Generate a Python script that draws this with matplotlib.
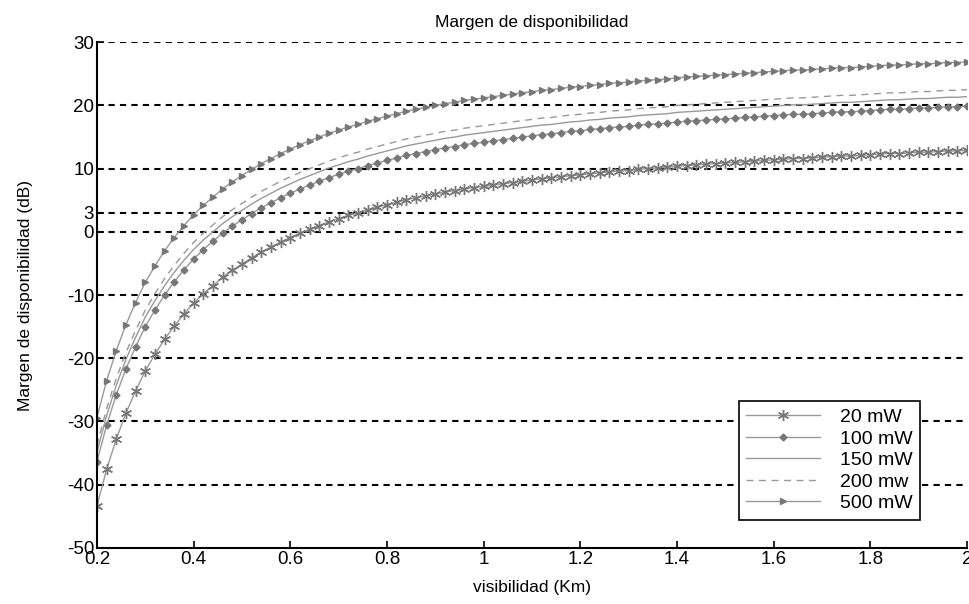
import matplotlib
matplotlib.use("Agg")
import matplotlib.pyplot as plt
import numpy as np

plt.rcParams['font.family'] = ['Liberation Sans', 'DejaVu Sans']

visibilidad = [round(0.20 + 0.02 * i, 2) for i in range(91)]

m20 = [-43.4, -37.6, -32.8, -28.7, -25.2, -22.0, -19.4, -17.0, -14.9, -13.0,
       -11.3, -9.8, -8.5, -7.2, -6.1, -5.1, -4.1, -3.2, -2.4, -1.6,
       -0.9, -0.2, 0.4, 1.0, 1.6, 2.1, 2.6, 3.0, 3.5, 3.9,
       4.3, 4.7, 5.1, 5.4, 5.7, 6.0, 6.3, 6.5, 6.8, 7.0,
       7.2, 7.4, 7.6, 7.8, 8.0, 8.2, 8.4, 8.5, 8.7, 8.9,
       9.0, 9.2, 9.3, 9.5, 9.6, 9.7, 9.9, 10.0, 10.1, 10.2,
       10.4, 10.5, 10.6, 10.7, 10.8, 10.9, 11.0, 11.1, 11.2, 11.3,
       11.4, 11.5, 11.6, 11.6, 11.7, 11.8, 11.9, 12.0, 12.0, 12.1,
       12.2, 12.3, 12.4, 12.4, 12.5, 12.6, 12.6, 12.7, 12.8, 12.8,
       12.9]

m100 = [-36.4, -30.6, -25.8, -21.7, -18.2, -15.0, -12.4, -10.0, -7.9, -6.0,
        -4.3, -2.8, -1.5, -0.2, 0.9, 1.9, 2.9, 3.8, 4.6, 5.4,
        6.1, 6.8, 7.4, 8.0, 8.6, 9.1, 9.6, 10.0, 10.5, 10.9,
        11.3, 11.7, 12.1, 12.4, 12.7, 13.0, 13.3, 13.5, 13.8, 14.0,
        14.2, 14.4, 14.6, 14.8, 15.0, 15.2, 15.4, 15.5, 15.7, 15.9,
        16.0, 16.2, 16.3, 16.5, 16.6, 16.7, 16.9, 17.0, 17.1, 17.2,
        17.4, 17.5, 17.6, 17.7, 17.8, 17.9, 18.0, 18.1, 18.2, 18.3,
        18.4, 18.5, 18.6, 18.6, 18.7, 18.8, 18.9, 19.0, 19.0, 19.1,
        19.2, 19.3, 19.4, 19.4, 19.5, 19.6, 19.6, 19.7, 19.8, 19.8,
        19.9]

m150 = [-34.9, -29.1, -24.3, -20.2, -16.7, -13.5, -10.9, -8.5, -6.4, -4.5,
        -2.8, -1.3, 0.0, 1.3, 2.4, 3.4, 4.4, 5.3, 6.1, 6.9,
        7.6, 8.3, 8.9, 9.5, 10.1, 10.6, 11.1, 11.5, 12.0, 12.4,
        12.8, 13.2, 13.6, 13.9, 14.2, 14.5, 14.8, 15.0, 15.3, 15.5,
        15.7, 15.9, 16.1, 16.3, 16.5, 16.7, 16.9, 17.0, 17.2, 17.4,
        17.5, 17.7, 17.8, 18.0, 18.1, 18.2, 18.4, 18.5, 18.6, 18.7,
        18.9, 19.0, 19.1, 19.2, 19.3, 19.4, 19.5, 19.6, 19.7, 19.8,
        19.9, 20.0, 20.1, 20.1, 20.2, 20.3, 20.4, 20.5, 20.5, 20.6,
        20.7, 20.8, 20.9, 20.9, 21.0, 21.1, 21.1, 21.2, 21.3, 21.3,
        21.4]

m200 = [-33.8, -28.0, -23.2, -19.1, -15.6, -12.4, -9.8, -7.4, -5.3, -3.4,
        -1.7, -0.2, 1.1, 2.4, 3.5, 4.5, 5.5, 6.4, 7.2, 8.0,
        8.7, 9.4, 10.0, 10.6, 11.2, 11.7, 12.2, 12.6, 13.1, 13.5,
        13.9, 14.3, 14.7, 15.0, 15.3, 15.6, 15.9, 16.1, 16.4, 16.6,
        16.8, 17.0, 17.2, 17.4, 17.6, 17.8, 18.0, 18.1, 18.3, 18.5,
        18.6, 18.8, 18.9, 19.1, 19.2, 19.3, 19.5, 19.6, 19.7, 19.8,
        20.0, 20.1, 20.2, 20.3, 20.4, 20.5, 20.6, 20.7, 20.8, 20.9,
        21.0, 21.1, 21.2, 21.2, 21.3, 21.4, 21.5, 21.6, 21.6, 21.7,
        21.8, 21.9, 22.0, 22.0, 22.1, 22.2, 22.2, 22.3, 22.4, 22.4,
        22.5]

m500 = [-29.4, -23.6, -18.8, -14.7, -11.2, -8.0, -5.4, -3.0, -0.9, 1.0,
        2.7, 4.2, 5.5, 6.8, 7.9, 8.9, 9.9, 10.8, 11.6, 12.4,
        13.1, 13.8, 14.4, 15.0, 15.6, 16.1, 16.6, 17.0, 17.5, 17.9,
        18.3, 18.7, 19.1, 19.4, 19.7, 20.0, 20.3, 20.5, 20.8, 21.0,
        21.2, 21.4, 21.6, 21.8, 22.0, 22.2, 22.4, 22.5, 22.7, 22.9,
        23.0, 23.2, 23.3, 23.5, 23.6, 23.7, 23.9, 24.0, 24.1, 24.2,
        24.4, 24.5, 24.6, 24.7, 24.8, 24.9, 25.0, 25.1, 25.2, 25.3,
        25.4, 25.5, 25.6, 25.6, 25.7, 25.8, 25.9, 26.0, 26.0, 26.1,
        26.2, 26.3, 26.4, 26.4, 26.5, 26.6, 26.6, 26.7, 26.8, 26.8,
        26.9]

labels = ['20 mW', '100 mW', '150 mW', '200 mw', '500 mW']
yticks = [-50, -40, -30, -20, -10, 0, 3, 10, 20, 30]
xticks = [0.2, 0.4, 0.6, 0.8, 1.0, 1.2, 1.4, 1.6, 1.8, 2.0]
xticklabels = ['0.2', '0.4', '0.6', '0.8', '1', '1.2', '1.4', '1.6', '1.8', '2']

fig = plt.figure(figsize=(9.69, 6.04), dpi=100)
ax = fig.add_axes([0.100, 0.093, 0.898, 0.837])

line_c = '#999999'
mk_c = '#777777'
ax.plot(visibilidad, m20, '-', color=line_c, lw=1.0, marker=(6, 2, 0), ms=8,
        mfc=mk_c, mec=mk_c, mew=1.0, label=labels[0])
ax.plot(visibilidad, m100, '-', color=line_c, lw=1.0, marker='D', ms=3.5,
        mfc=mk_c, mec=mk_c, label=labels[1])
ax.plot(visibilidad, m150, '-', color=line_c, lw=1.0, label=labels[2])
ax.plot(visibilidad, m200, color=line_c, lw=1.0, ls=(0, (5, 4)), label=labels[3])
ax.plot(visibilidad, m500, '-', color=line_c, lw=1.0, marker='>', ms=4.5,
        mfc=mk_c, mec=mk_c, label=labels[4])

ax.set_xlim(0.2, 2.0)
ax.set_ylim(-50, 30)
ax.set_yticks(yticks)
ax.set_yticklabels([str(t) for t in yticks])
ax.set_xticks(xticks)
ax.set_xticklabels(xticklabels)
ax.tick_params(direction='in', length=5, width=1.2, labelsize=13.5, colors='black')
ax.tick_params(axis='y', pad=2)
ax.tick_params(axis='x', pad=2)

for t in yticks[1:]:
    ax.axhline(t, color='black', lw=1.5, ls=(0, (3, 2.5)), zorder=0.5)

for s in ['top', 'right']:
    ax.spines[s].set_visible(False)
for s in ['left', 'bottom']:
    ax.spines[s].set_linewidth(1.5)

ax.set_title('Margen de disponibilidad', fontsize=12.5, pad=11)
ax.set_xlabel('visibilidad (Km)', fontsize=12.5, labelpad=9)
ax.set_ylabel('Margen de disponibilidad (dB)', fontsize=12.5, labelpad=24)

leg = ax.legend(loc='lower right', bbox_to_anchor=(0.946, 0.055), fontsize=14,
                fancybox=False, framealpha=1, edgecolor='black',
                handlelength=3.8, borderpad=0.4, labelspacing=0.2, handletextpad=1.0,
                borderaxespad=0.0)
leg.get_frame().set_linewidth(1.2)

fig.savefig('out.png', dpi=100)
